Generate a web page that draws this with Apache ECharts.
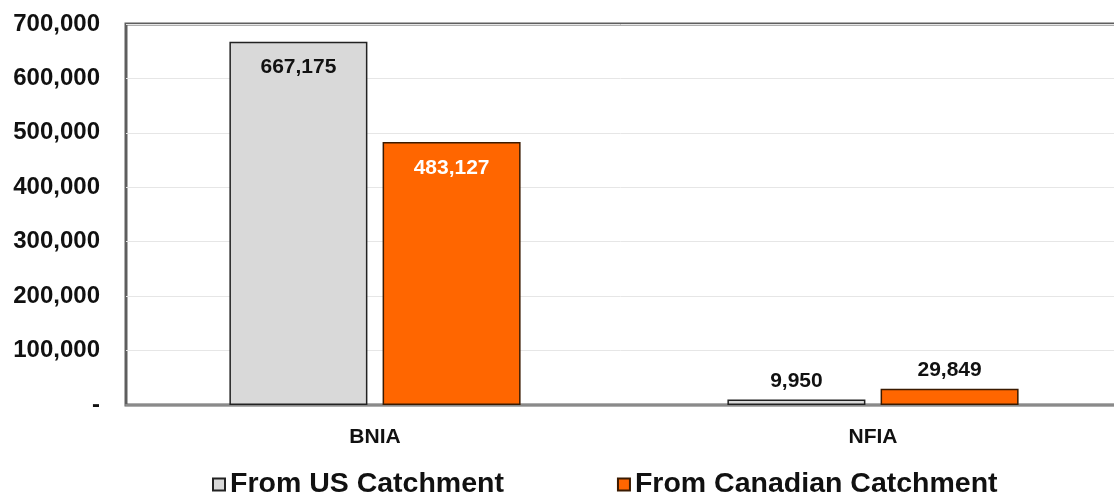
<!DOCTYPE html>
<html><head><meta charset="utf-8">
<script src="https://cdn.jsdelivr.net/npm/echarts@6/dist/echarts.min.js"></script>
<style>html,body{margin:0;padding:0;background:#fff}#c{width:1114px;height:497px}</style>
</head><body><div id="c"></div>
<script>
const categories = ['BNIA', 'NFIA'];
const usValues = [667175, 9950];
const caValues = [483127, 29849];
const seriesNames = ['From US Catchment', 'From Canadian Catchment'];
const yTicks = [0, 100000, 200000, 300000, 400000, 500000, 600000, 700000];

const fmt = v => v === 0 ? '-' : v.toLocaleString('en-US');
const F = 'Liberation Sans, Arial, sans-serif';

const chart = echarts.init(document.getElementById('c'));
chart.setOption({
  animation: false,
  grid: { left: 126, width: 996, top: 24, bottom: 92, outerBoundsMode: 'none', containLabel: false, show: true, borderColor: '#5e5e5e', borderWidth: 3, backgroundColor: '#fff' },
  xAxis: {
    type: 'category', data: categories,
    axisLine: { lineStyle: { color: '#8a8a8a', width: 2 } },
    axisTick: { show: false },
    axisLabel: { fontFamily: F, fontWeight: 'bold', fontSize: 21, color: '#111', margin: 22 }
  },
  yAxis: {
    type: 'value', min: yTicks[0], max: yTicks[yTicks.length - 1], interval: 100000,
    axisLine: { show: false }, axisTick: { show: false },
    splitLine: { lineStyle: { color: '#e6e6e6', width: 1 } },
    axisLabel: { formatter: fmt, fontFamily: F, fontWeight: 'bold', fontSize: 24, color: '#111', margin: 26 }
  },
  legend: {
    left: 212, top: 470, itemWidth: 12, itemHeight: 12, itemGap: 113, padding: 0,
    icon: 'rect',
    textStyle: { fontFamily: F, fontWeight: 'bold', fontSize: 28.5, color: '#111' },
    data: seriesNames
  },
  series: [
    {
      name: seriesNames[0], type: 'bar', data: usValues.map((v, i) => ({
        value: v,
        label: i === 0 ? { position: 'insideTop', distance: 15, color: '#111' } : { position: 'top', distance: 8, color: '#111' }
      })),
      barWidth: 138, barGap: '11%',
      itemStyle: { color: '#d9d9d9', borderColor: '#222', borderWidth: 1.5 },
      label: { show: true, formatter: p => fmt(p.value), fontFamily: F, fontWeight: 'bold', fontSize: 21 }
    },
    {
      name: seriesNames[1], type: 'bar', data: caValues.map((v, i) => ({
        value: v,
        label: i === 0 ? { position: 'insideTop', distance: 16, color: '#fff' } : { position: 'top', distance: 8, color: '#111' }
      })),
      barWidth: 138,
      itemStyle: { color: '#ff6600', borderColor: '#3a1a00', borderWidth: 1.5 },
      label: { show: true, formatter: p => fmt(p.value), fontFamily: F, fontWeight: 'bold', fontSize: 21 }
    }
  ]
});
</script></body></html>
